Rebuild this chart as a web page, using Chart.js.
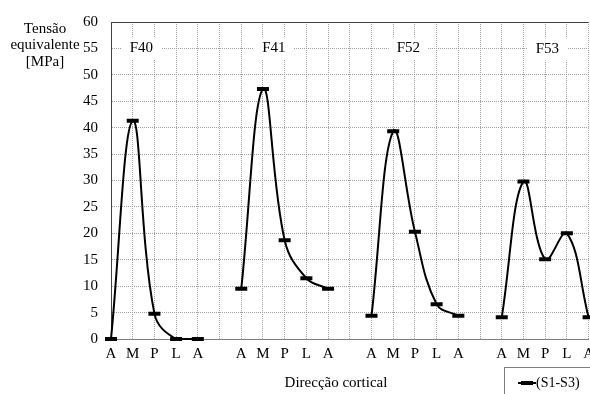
<!DOCTYPE html>
<html>
<head>
<meta charset="utf-8">
<script src="https://cdn.jsdelivr.net/npm/chart.js@4"></script>
<style>
    html, body { margin: 0; padding: 0; background: #fff; overflow: hidden; }
    #wrap { position: relative; width: 590px; height: 394px; overflow: hidden; }
</style>
</head>
<body>
<div id="wrap"><canvas id="stressChart" width="600" height="394"></canvas></div>
<script>
// ============================================
// Data
// ============================================
const groups = ['F40', 'F41', 'F52', 'F53'];
const directions = ['A', 'M', 'P', 'L', 'A'];
const f40 = [0, 41.3, 4.8, 0, 0];
const f41 = [9.5, 47.3, 18.7, 11.5, 9.5];
const f52 = [4.4, 39.3, 20.3, 6.6, 4.4];
const f53 = [4.1, 29.8, 15.1, 20.0, 4.1];
const yMax = 60;
const yStep = 5;
const seriesName = '(S1-S3)';
const xTitle = 'Direcção cortical';
const yTitle = ['Tensão', 'equivalente', '[MPa]'];

// one blank category between each group, line breaks there
const groupValues = [f40, f41, f52, f53];
const labels = [];
const values = [];
groupValues.forEach((vals, i) => {
    if (i > 0) {
        labels.push('');
        values.push(null);
    }
    directions.forEach(d => labels.push(d));
    vals.forEach(v => values.push(v));
});

const serif = '"Liberation Serif", "Times New Roman", serif';

// ============================================
// Extra drawing: titles, group names, legend
// ============================================
const decorPlugin = {
    id: 'decor',
    beforeDatasetsDraw(chart) {
        const { ctx, chartArea, scales } = chart;
        ctx.save();

        // solid top border
        ctx.strokeStyle = '#404040';
        ctx.lineWidth = 1;
        ctx.beginPath();
        ctx.moveTo(chartArea.left, chartArea.top + 0.5);
        ctx.lineTo(chartArea.right, chartArea.top + 0.5);
        ctx.stroke();

        // group names with white box
        const offsets = [1.4, 1.5, 1.7, 2.1];
        ctx.font = '15px ' + serif;
        ctx.textAlign = 'center';
        ctx.textBaseline = 'middle';
        groups.forEach((g, i) => {
            const x = scales.x.getPixelForValue(i * 6 + offsets[i]);
            const y = scales.y.getPixelForValue(55) + (i === 3 ? 1 : 0);
            const w = ctx.measureText(g).width + 16;
            ctx.fillStyle = '#fff';
            ctx.fillRect(x - w / 2, y - 11, w, 22);
            ctx.fillStyle = '#000';
            ctx.fillText(g, x, y);
        });
        ctx.restore();
    },
    afterDraw(chart) {
        const { ctx } = chart;
        ctx.save();
        ctx.fillStyle = '#000';
        ctx.font = '15px ' + serif;
        ctx.textAlign = 'center';
        ctx.textBaseline = 'middle';

        // y title, three lines
        ctx.fillText(yTitle[0], 45, 29);
        ctx.fillText(yTitle[1], 45, 45);
        ctx.fillText(yTitle[2], 45, 62);

        // x title
        ctx.fillText(xTitle, 336, 383);

        // legend box
        ctx.strokeStyle = '#7f7f7f';
        ctx.lineWidth = 1;
        ctx.strokeRect(504.5, 367.5, 120, 40);
        ctx.strokeStyle = '#000';
        ctx.lineWidth = 2;
        ctx.beginPath();
        ctx.moveTo(518, 383);
        ctx.lineTo(536, 383);
        ctx.stroke();
        ctx.lineWidth = 4;
        ctx.beginPath();
        ctx.moveTo(521, 383);
        ctx.lineTo(533, 383);
        ctx.stroke();
        ctx.textAlign = 'left';
        ctx.font = '14px ' + serif;
        ctx.fillText(seriesName, 536, 383);
        ctx.restore();
    }
};

// ============================================
// Chart
// ============================================
const ctx = document.getElementById('stressChart').getContext('2d');
new Chart(ctx, {
    type: 'line',
    data: {
        labels: labels,
        datasets: [{
            label: seriesName,
            data: values,
            borderColor: '#000',
            borderWidth: 2,
            tension: 0.4,
            spanGaps: false,
            pointStyle: 'line',
            pointRadius: 6,
            pointBorderWidth: 4,
            pointBorderColor: '#000',
            pointBackgroundColor: '#000',
            clip: 8
        }]
    },
    options: {
        responsive: false,
        animation: false,
        layout: { padding: { top: 20, right: 0, left: 0, bottom: 0 } },
        plugins: {
            legend: { display: false },
            tooltip: { enabled: false }
        },
        scales: {
            x: {
                offset: false,
                afterFit: s => { s.height = 55; },
                grid: {
                    color: '#a0a0a0',
                    lineWidth: 1,
                    drawTicks: false,
                    offset: false
                },
                border: { display: true, color: '#808080', width: 1, dash: [1, 1] },
                ticks: {
                    color: '#000',
                    font: { family: serif, size: 15 },
                    padding: 6,
                    autoSkip: false,
                    maxRotation: 0
                }
            },
            y: {
                min: 0,
                max: yMax,
                afterFit: s => { s.width = 111; },
                grid: { color: '#a0a0a0', lineWidth: 1, drawTicks: false },
                border: { display: true, color: '#404040', width: 1, dash: [1, 1] },
                ticks: {
                    stepSize: yStep,
                    color: '#000',
                    font: { family: serif, size: 15 },
                    padding: 13
                }
            }
        }
    },
    plugins: [decorPlugin]
});
</script>
</body>
</html>
